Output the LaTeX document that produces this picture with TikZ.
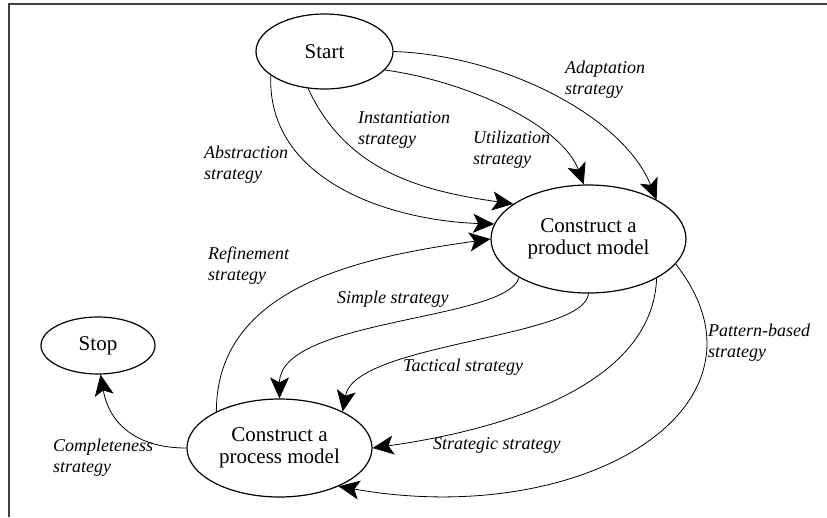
\documentclass[tikz,border=0pt]{standalone}
\usepackage{fontspec}
\setmainfont{Liberation Serif}
\usetikzlibrary{shapes.geometric,arrows.meta}
\tikzset{
  state/.style={draw, ellipse, line width=1.2pt, inner sep=0pt, align=center,
    font=\fontsize{21}{22}\selectfont},
  strat/.style={anchor=north west, inner sep=0pt, align=left,
    font=\fontsize{18}{21}\selectfont\itshape},
  flow/.style={line width=0.8pt, -{Stealth[length=21pt, width=19pt, inset=5pt]}}
}
\begin{document}
\begin{tikzpicture}[x=1pt,y=-1pt]
    \useasboundingbox (0,0) rectangle (827,517);
    \draw[line width=1.6pt, black!75] (827,4) -- (9,4) -- (9,517);
    % states
    \node[state, minimum width=137pt, minimum height=75pt] (start) at (324.5,51.5) {Start};
    \node[state, minimum width=195pt, minimum height=108pt] (product) at (588.5,239) {Construct a\\product model};
    \node[state, minimum width=114pt, minimum height=57pt] (stop) at (98,345.5) {Stop};
    \node[state, minimum width=185pt, minimum height=98pt] (process) at (279.5,448) {Construct a\\process model};
    % strategies
    \draw[flow] (start.0) to[out=-2, in=112, out distance=110pt, in distance=90pt] (product.30);
    \draw[flow] (start.-17) to[out=-8, in=110, out distance=90pt, in distance=60pt] (product.95);
    \draw[flow] (start.-114) to[out=-65, in=172] (product.155);
    \draw[flow] (start.-156) to[out=-92, in=178] (product.171);
    \draw[flow] (process.150) to[out=90, in=-172] (product.180);
    \draw[flow] (product.-151) to[out=-105, in=90, out distance=45pt, in distance=80pt] (process.90);
    \draw[flow] (product.-90) to[out=-95, in=80, out distance=45pt, in distance=70pt] (process.30);
    \draw[flow] (product.-30) to[out=-92, in=8, out distance=100pt, in distance=150pt] (process.0);
    \draw[flow] (product.-16) to[out=-52, in=-10, out distance=180pt, in distance=250pt] (process.-33);
    \draw[flow] (process.180) to[out=180, in=-80, out distance=50pt, in distance=50pt] (stop.-85);
    % labels
    \node[strat] (lbladapt) at (565,61) {Adaptation\\strategy};
    \node[strat] (lblutil) at (473,131) {Utilization\\strategy};
    \node[strat] (lblinst) at (358,111) {Instantiation\\strategy};
    \node[strat] (lblabst) at (204,146) {Abstraction\\strategy};
    \node[strat] (lblrefine) at (208,247) {Refinement\\strategy};
    \node[strat] (lblsimple) at (337,291) {Simple strategy};
    \node[strat] (lbltact) at (403,359) {Tactical strategy};
    \node[strat] (lblstrat) at (433,437) {Strategic strategy};
    \node[strat] (lblpattern) at (708,324) {Pattern-based\\strategy};
    \node[strat] (lblcomplete) at (53,439) {Completeness\\strategy};
\end{tikzpicture}
\end{document}
